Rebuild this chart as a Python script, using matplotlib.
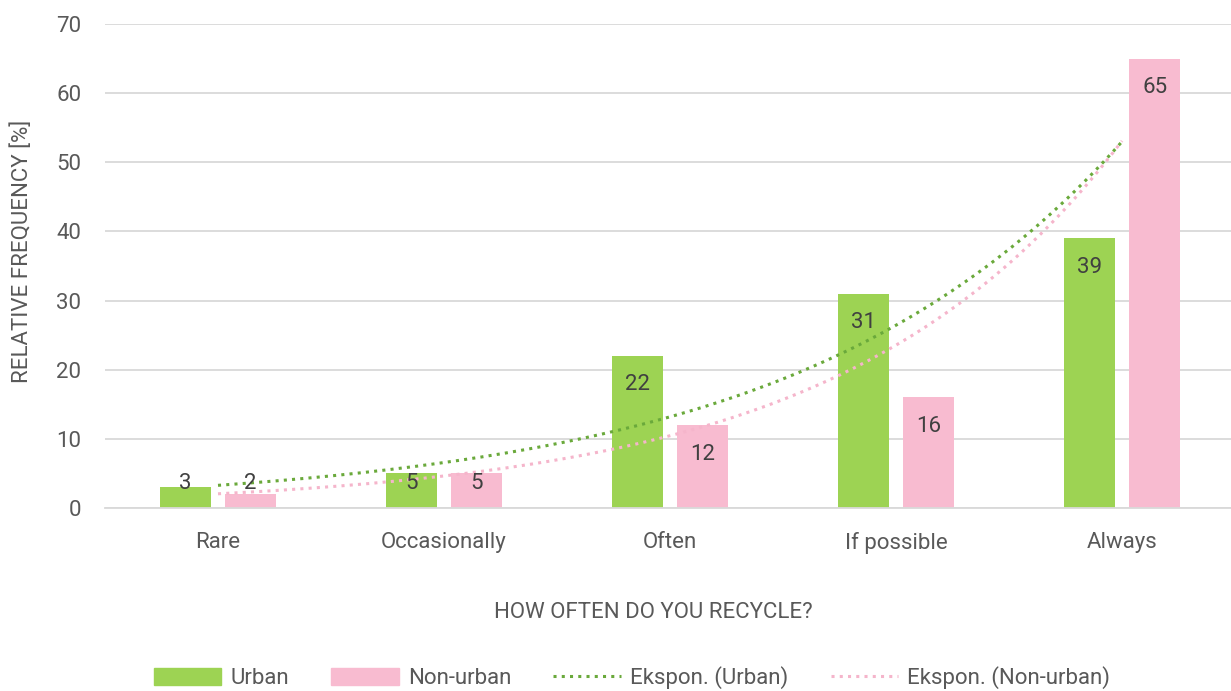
import numpy as np
import matplotlib.pyplot as plt
from matplotlib.lines import Line2D
from matplotlib.patches import Patch

categories = ["Rare", "Occasionally", "Often", "If possible", "Always"]
urban = [3, 5, 22, 31, 39]
non_urban = [2, 5, 12, 16, 65]

green = "#9dd353"
pink = "#f8bbd0"
green_trend = "#6aa93b"
pink_trend = "#f5b5cb"
text_col = "#595959"
fs = 16

plt.rcParams['font.family'] = ['Roboto', 'DejaVu Sans']

fig = plt.figure(figsize=(12.31, 6.91), dpi=100)
ax = fig.add_axes([0.0853, 0.2648, 0.918, 0.7005])

x = np.arange(len(categories))
w = 0.226
off = 0.144
ax.bar(x - off, urban, w, color=green, zorder=2)
ax.bar(x + off, non_urban, w, color=pink, zorder=2)


# exponential trendline, least squares on log values (x = 1..n)
def expo_fit(vals):
    xi = np.arange(1, len(vals) + 1)
    b, ln_a = np.polyfit(xi, np.log(vals), 1)
    xs = np.linspace(1, len(vals), 200)
    return xs - 1, np.exp(ln_a) * np.exp(b * xs)


dots = (0, (1, 1.7))
tx, ty = expo_fit(urban)
ax.plot(tx, ty, color=green_trend, lw=2.2, ls=dots, zorder=3)
tx, ty = expo_fit(non_urban)
ax.plot(tx, ty, color=pink_trend, lw=2.2, ls=dots, zorder=3)

# value labels inside the bar top, lifted for short bars
for xs, vals in [(x - off, urban), (x + off, non_urban)]:
    for xi, v in zip(xs, vals):
        ax.text(xi, max(v - 4.2, 3.6), str(v), ha="center", va="center",
                fontsize=fs, color="#404040", zorder=4)

ax.set_xlim(-0.5, 4.5)
ax.set_ylim(0, 70)
ax.set_yticks(range(0, 71, 10))
ax.set_xticks(x)
ax.set_xticklabels(categories)
ax.grid(axis="y", color="#d9d9d9", lw=1.3, zorder=0)
ax.set_axisbelow(True)
for s in ["top", "right", "left"]:
    ax.spines[s].set_visible(False)
ax.spines["bottom"].set_color("#d9d9d9")
ax.spines["bottom"].set_linewidth(1.3)
ax.tick_params(axis="both", length=0, labelsize=fs, labelcolor=text_col)
ax.tick_params(axis="y", pad=17)
ax.tick_params(axis="x", pad=17)

fig.text(22 / 1231, 1 - 251 / 691, "RELATIVE FREQUENCY [%]", rotation=90,
         ha="center", va="center", fontsize=fs, color=text_col)
fig.text(653 / 1231, 1 - 613 / 691, "HOW OFTEN DO YOU RECYCLE?", ha="center", va="center",
         fontsize=fs, color=text_col)

handles = [
    Patch(color=green),
    Patch(color=pink),
    Line2D([], [], color=green_trend, lw=2.2, ls=dots),
    Line2D([], [], color=pink_trend, lw=2.2, ls=dots),
]
labels = ["Urban", "Non-urban", "Ekspon. (Urban)", "Ekspon. (Non-urban)"]
fig.legend(handles, labels, loc="center", bbox_to_anchor=(632 / 1231, 1 - 678 / 691), ncol=4,
           frameon=False, fontsize=fs, labelcolor=text_col, handlelength=3.05,
           handleheight=0.75, columnspacing=1.9, handletextpad=0.4)

fig.savefig("out.png", dpi=100)
